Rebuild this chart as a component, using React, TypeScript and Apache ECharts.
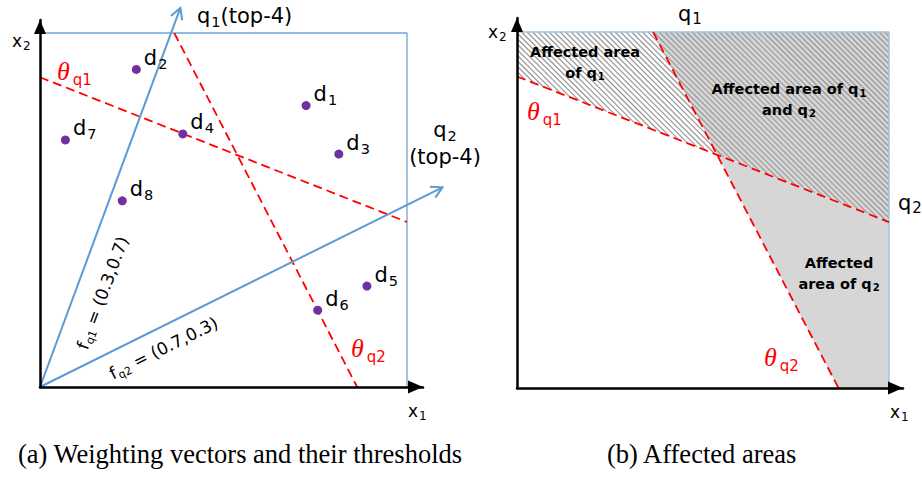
import React, { useEffect, useRef } from 'react';
import * as echarts from 'echarts';

// ---- data ---------------------------------------------------------------
// Objects in the two-attribute space (x1, x2)
const POINT_NAMES = ['d1', 'd2', 'd3', 'd4', 'd5', 'd6', 'd7', 'd8'];
const POINT_X1 = [0.87, 0.315, 0.977, 0.467, 1.069, 0.908, 0.083, 0.269];
const POINT_X2 = [0.795, 0.897, 0.658, 0.715, 0.285, 0.217, 0.698, 0.526];

// Query weighting vectors and the drawn length of each arrow
const QUERY_NAMES = ['q1', 'q2'];
const QUERY_WEIGHTS = [
  [0.3, 0.7],
  [0.7, 0.3],
];
const QUERY_ARROW_LENGTH = [1.53, 1.88];

// Top-4 score thresholds (end points of each threshold line)
const THETA_Q1_X1 = [0, 1.2];
const THETA_Q1_X2 = [0.875, 0.466];
const THETA_Q2_X1 = [0.439, 1.037];
const THETA_Q2_X2 = [1, 0];

// Bounds of the attribute space
const SPACE_X1 = [0, 1.2];
const SPACE_X2 = [0, 1];

// ---- style --------------------------------------------------------------
const SANS = 'DejaVu Sans';
const SERIF = 'Liberation Serif';
const RED = '#ff0000';
const BLUE = '#5b9bd5';
const BOX_A = '#6fa6db';
const BOX_B = '#9cc3e6';
const PURPLE = '#7030a0';
const GRAY_FILL = '#d6d6d6';
const HATCH = '#9a9a9a';
const HATCH_SPACING = 5.5;

const GRID_A = { left: 40, top: 20, width: 383, height: 367, boxW: 367, boxH: 354 };
const GRID_B = { left: 517, top: 18, width: 386, height: 370, boxW: 372, boxH: 356 };

// placement of the f_q labels along / across each vector (px)
const FLABEL_ALONG = [110, 128];
const FLABEL_ACROSS = [27, 21];

type RichOpts = {
  size: number;
  subSize: number;
  drop: number;
  color?: string;
  weight?: string;
  family?: string;
  subFamily?: string;
  style?: string;
  lineHeight?: number;
  gap?: number;
};

// main token + subscript token; the subscript baseline sits `drop` px below the main baseline
function richPair(o: RichOpts) {
  const color = o.color ?? '#000';
  const pad = o.drop + 0.84 * (o.size - o.subSize);
  return {
    m: {
      fontFamily: o.family ?? SANS,
      fontSize: o.size,
      fontWeight: o.weight ?? 'normal',
      fontStyle: o.style ?? 'normal',
      color,
      fill: color,
      opacity: 1,
      verticalAlign: 'top',
      lineHeight: o.lineHeight ?? o.size,
    },
    s: {
      fontFamily: o.subFamily ?? o.family ?? SANS,
      fontSize: o.subSize,
      fontWeight: o.weight ?? 'normal',
      fontStyle: 'normal',
      color,
      fill: color,
      opacity: 1,
      verticalAlign: 'top',
      padding: [pad, 0, 0, o.gap ?? 1],
    },
  };
}

const RICH_LABEL = richPair({ size: 21, subSize: 14.5, drop: 3.4 });
const RICH_LABEL_Q = richPair({ size: 21, subSize: 14.5, drop: 3.4, lineHeight: 27 });
const RICH_AXIS = richPair({ size: 17, subSize: 12, drop: 3 });
const RICH_Q_B = richPair({ size: 21, subSize: 15, drop: 3.5 });
const RICH_THETA = richPair({
  size: 26,
  subSize: 15,
  drop: 5,
  family: SERIF,
  subFamily: SANS,
  style: 'italic',
  color: RED,
  gap: 3,
});
const RICH_AREA = richPair({ size: 14.5, subSize: 10, drop: 2.5, weight: 'bold', lineHeight: 20.5 });
const RICH_F = richPair({ size: 17, subSize: 11, drop: 3 });

function sub(main: string, s: string) {
  return `{m|${main}}{s|${s}}`;
}

function textAt(x: number, baseline: number, size: number, text: string, rich: any, align = 'left') {
  return {
    type: 'text',
    x,
    y: baseline - 0.84 * size,
    z: 20,
    style: { text, rich, align, textAlign: align, verticalAlign: 'top', textVerticalAlign: 'top' },
  };
}

function caption(x: number, baseline: number, text: string) {
  const size = 26.5;
  return {
    type: 'text',
    x,
    y: baseline - 0.84 * size,
    z: 20,
    style: {
      text,
      font: `${size}px "${SERIF}"`,
      fill: '#000',
      align: 'left',
      verticalAlign: 'top',
      textAlign: 'left',
      textVerticalAlign: 'top',
    },
  };
}

// ---- geometry helpers --------------------------------------------------
function lineIntersection(p1: number[], p2: number[], p3: number[], p4: number[]) {
  const d = (p1[0] - p2[0]) * (p3[1] - p4[1]) - (p1[1] - p2[1]) * (p3[0] - p4[0]);
  const a = p1[0] * p2[1] - p1[1] * p2[0];
  const b = p3[0] * p4[1] - p3[1] * p4[0];
  return [
    (a * (p3[0] - p4[0]) - (p1[0] - p2[0]) * b) / d,
    (a * (p3[1] - p4[1]) - (p1[1] - p2[1]) * b) / d,
  ];
}

// diagonal hatch segments (screen direction down-right) clipped to a convex polygon
function hatchSegments(poly: number[][], spacing: number) {
  const n = poly.length;
  let area2 = 0;
  for (let i = 0; i < n; i++) {
    const a = poly[i];
    const b = poly[(i + 1) % n];
    area2 += a[0] * b[1] - a[1] * b[0];
  }
  const sg = Math.sign(area2) || 1;
  const xs = poly.map((p) => p[0]);
  const ys = poly.map((p) => p[1]);
  const minC = Math.min(...xs) - Math.max(...ys);
  const maxC = Math.max(...xs) - Math.min(...ys);
  const segs: number[][] = [];
  for (let c = Math.ceil(minC / spacing) * spacing; c <= maxC; c += spacing) {
    let t0 = -1e6;
    let t1 = 1e6;
    let ok = true;
    for (let i = 0; i < n && ok; i++) {
      const a = poly[i];
      const b = poly[(i + 1) % n];
      const ex = b[0] - a[0];
      const ey = b[1] - a[1];
      const N = sg * (ex * (0 - a[1]) - ey * (c - a[0]));
      const D = sg * (ex - ey);
      if (Math.abs(D) < 1e-9) {
        if (N < 0) ok = false;
      } else if (D > 0) {
        t0 = Math.max(t0, -N / D);
      } else {
        t1 = Math.min(t1, -N / D);
      }
    }
    if (ok && t1 - t0 > 0.5) segs.push([c + t0, t0, c + t1, t1]);
  }
  return segs;
}

// ---- derived shapes ----------------------------------------------------
const THETA1_START = [THETA_Q1_X1[0], THETA_Q1_X2[0]];
const THETA1_END = [THETA_Q1_X1[1], THETA_Q1_X2[1]];
const THETA2_START = [THETA_Q2_X1[0], THETA_Q2_X2[0]];
const THETA2_END = [THETA_Q2_X1[1], THETA_Q2_X2[1]];
const CROSS = lineIntersection(THETA1_START, THETA1_END, THETA2_START, THETA2_END);

const REGIONS = [
  // affected by q1 only
  { poly: [[SPACE_X1[0], SPACE_X2[1]], THETA1_START, CROSS, THETA2_START], fill: false, hatch: true },
  // affected by q1 and q2
  { poly: [THETA2_START, [SPACE_X1[1], SPACE_X2[1]], THETA1_END, CROSS], fill: true, hatch: true },
  // affected by q2 only
  { poly: [CROSS, THETA1_END, [SPACE_X1[1], SPACE_X2[0]], THETA2_END], fill: true, hatch: false },
];

function axisPair(g: typeof GRID_A, gridIndex: number) {
  const xMax = (SPACE_X1[1] * g.width) / g.boxW;
  const yMax = (SPACE_X2[1] * g.height) / g.boxH;
  const hidden = { axisTick: { show: false }, axisLabel: { show: false }, splitLine: { show: false } };
  return {
    x: {
      type: 'value',
      gridIndex,
      min: 0,
      max: xMax,
      z: 8,
      ...hidden,
      axisLine: {
        show: true,
        onZero: true,
        symbol: ['none', 'triangle'],
        symbolSize: [13, 15],
        symbolOffset: [0, -7.5],
        lineStyle: { color: '#000', width: 2.5 },
      },
    },
    y: {
      type: 'value',
      gridIndex,
      min: 0,
      max: yMax,
      z: 8,
      ...hidden,
      axisLine: {
        show: true,
        onZero: true,
        symbol: ['none', 'triangle'],
        symbolSize: [12, 14],
        symbolOffset: [0, -7],
        lineStyle: { color: '#000', width: 2.5 },
      },
    },
  };
}

function thresholdLine(name: string, a: number[], b: number[], idx: number) {
  return {
    type: 'line',
    name,
    xAxisIndex: idx,
    yAxisIndex: idx,
    data: [a, b],
    symbol: 'none',
    z: 4,
    lineStyle: { color: RED, width: 1.8, type: [9, 5] },
  };
}

function boxLine(idx: number, color: string, width: number) {
  return {
    type: 'line',
    xAxisIndex: idx,
    yAxisIndex: idx,
    data: [
      [SPACE_X1[0], SPACE_X2[1]],
      [SPACE_X1[1], SPACE_X2[1]],
      [SPACE_X1[1], SPACE_X2[0]],
    ],
    symbol: 'none',
    z: 3,
    lineStyle: { color, width },
  };
}

function buildOption() {
  const A = axisPair(GRID_A, 0);
  const B = axisPair(GRID_B, 1);

  const vectorSeries = {
    type: 'custom',
    name: 'weighting vectors',
    coordinateSystem: 'cartesian2d',
    xAxisIndex: 0,
    yAxisIndex: 0,
    clip: false,
    z: 5,
    data: QUERY_WEIGHTS.map((w, i) => [w[0] * QUERY_ARROW_LENGTH[i], w[1] * QUERY_ARROW_LENGTH[i]]),
    renderItem: (params: any, api: any) => {
      const i = params.dataIndex;
      const o = api.coord([0, 0]);
      const tip = api.coord([api.value(0), api.value(1)]);
      const dx = tip[0] - o[0];
      const dy = tip[1] - o[1];
      const len = Math.hypot(dx, dy);
      const ux = dx / len;
      const uy = dy / len;
      const nx = -uy;
      const ny = ux;
      const ah = 11;
      const hw = 6;
      const bx = tip[0] - ux * ah;
      const by = tip[1] - uy * ah;
      const angle = Math.atan2(-dy, dx);
      const cx = o[0] + ux * FLABEL_ALONG[i] + nx * FLABEL_ACROSS[i];
      const cy = o[1] + uy * FLABEL_ALONG[i] + ny * FLABEL_ACROSS[i];
      const w = QUERY_WEIGHTS[i];
      return {
        type: 'group',
        children: [
          {
            type: 'line',
            shape: { x1: o[0], y1: o[1], x2: tip[0], y2: tip[1] },
            style: { stroke: BLUE, lineWidth: 2 },
          },
          {
            type: 'polyline',
            shape: {
              points: [
                [bx + nx * hw, by + ny * hw],
                [tip[0], tip[1]],
                [bx - nx * hw, by - ny * hw],
              ],
            },
            style: { stroke: BLUE, lineWidth: 2, fill: 'none' },
          },
          {
            type: 'text',
            x: cx,
            y: cy,
            rotation: angle,
            style: {
              text: `{m|f}{s|${QUERY_NAMES[i]}}{m| = (${w[0]},${w[1]})}`,
              rich: RICH_F,
              align: 'center',
              verticalAlign: 'middle',
              textAlign: 'center',
              textVerticalAlign: 'middle',
            },
          },
        ],
      };
    },
  };

  const areaSeries = {
    type: 'custom',
    name: 'affected areas',
    coordinateSystem: 'cartesian2d',
    xAxisIndex: 1,
    yAxisIndex: 1,
    clip: false,
    z: 1,
    data: REGIONS.map((_, i) => [i, 0]),
    renderItem: (params: any, api: any) => {
      const r = REGIONS[params.dataIndex];
      const pts = r.poly.map((p) => api.coord(p));
      const children: any[] = [];
      if (r.fill) {
        children.push({ type: 'polygon', shape: { points: pts }, style: { fill: GRAY_FILL, stroke: 'none' } });
      }
      if (r.hatch) {
        for (const s of hatchSegments(pts, HATCH_SPACING)) {
          children.push({
            type: 'line',
            shape: { x1: s[0], y1: s[1], x2: s[2], y2: s[3] },
            style: { stroke: HATCH, lineWidth: 1.2 },
          });
        }
      }
      return { type: 'group', children };
    },
  };

  const pointSeries = {
    type: 'scatter',
    name: 'objects',
    xAxisIndex: 0,
    yAxisIndex: 0,
    symbolSize: 9,
    z: 6,
    itemStyle: { color: PURPLE, opacity: 1 },
    data: POINT_NAMES.map((n, i) => ({ name: n, value: [POINT_X1[i], POINT_X2[i]] })),
    label: {
      show: true,
      position: 'right',
      distance: 3,
      offset: [0, -10],
      color: '#000',
      opacity: 1,
      formatter: (p: any) => sub(p.name.slice(0, 1), p.name.slice(1)),
      rich: RICH_LABEL,
    },
  };

  const graphics = [
    // panel (a)
    textAt(12, 47, 17, sub('x', '2'), RICH_AXIS),
    textAt(408, 417, 17, sub('x', '1'), RICH_AXIS),
    textAt(197, 23, 21, sub('q', '1') + '{m|(top-4)}', RICH_LABEL),
    textAt(445, 137, 21, sub('q', '2') + '\n{m|(top-4)}', RICH_LABEL_Q, 'center'),
    textAt(57, 80, 26, sub('θ', 'q1'), RICH_THETA),
    textAt(351, 357, 26, sub('θ', 'q2'), RICH_THETA),
    // panel (b)
    textAt(488, 38, 17, sub('x', '2'), RICH_AXIS),
    textAt(890, 418, 17, sub('x', '1'), RICH_AXIS),
    textAt(678, 21, 21, sub('q', '1'), RICH_Q_B),
    textAt(898, 210, 21, sub('q', '2'), RICH_Q_B),
    textAt(527, 120, 26, sub('θ', 'q1'), RICH_THETA),
    textAt(764, 366, 26, sub('θ', 'q2'), RICH_THETA),
    textAt(585, 57, 14.5, '{m|Affected area}\n' + sub('of q', '1'), RICH_AREA, 'center'),
    textAt(789, 94, 14.5, sub('Affected area of q', '1') + '\n' + sub('and q', '2'), RICH_AREA, 'center'),
    textAt(839, 268, 14.5, '{m|Affected}\n' + sub('area of q', '2'), RICH_AREA, 'center'),
    // captions
    caption(18, 463, '(a) Weighting vectors and their thresholds'),
    caption(607, 463, '(b) Affected areas'),
  ];

  return {
    animation: false,
    backgroundColor: '#ffffff',
    grid: [
      { left: GRID_A.left, top: GRID_A.top, width: GRID_A.width, height: GRID_A.height },
      { left: GRID_B.left, top: GRID_B.top, width: GRID_B.width, height: GRID_B.height },
    ],
    xAxis: [A.x, B.x],
    yAxis: [A.y, B.y],
    graphic: graphics,
    series: [
      boxLine(0, BOX_A, 1.3),
      thresholdLine('θq1', THETA1_START, THETA1_END, 0),
      thresholdLine('θq2', THETA2_START, THETA2_END, 0),
      vectorSeries,
      pointSeries,
      areaSeries,
      thresholdLine('θq1', THETA1_START, THETA1_END, 1),
      thresholdLine('θq2', THETA2_START, THETA2_END, 1),
      boxLine(1, BOX_B, 1.5),
    ],
  };
}

export default function App() {
  const ref = useRef<HTMLDivElement>(null);
  useEffect(() => {
    if (!ref.current) return;
    const chart = echarts.init(ref.current, undefined, { renderer: 'svg' });
    chart.setOption(buildOption() as any);
    return () => chart.dispose();
  }, []);
  return (
    <div
      ref={ref}
      style={{ position: 'fixed', left: 0, top: 0, width: 922, height: 480, background: '#fff' }}
    />
  );
}
